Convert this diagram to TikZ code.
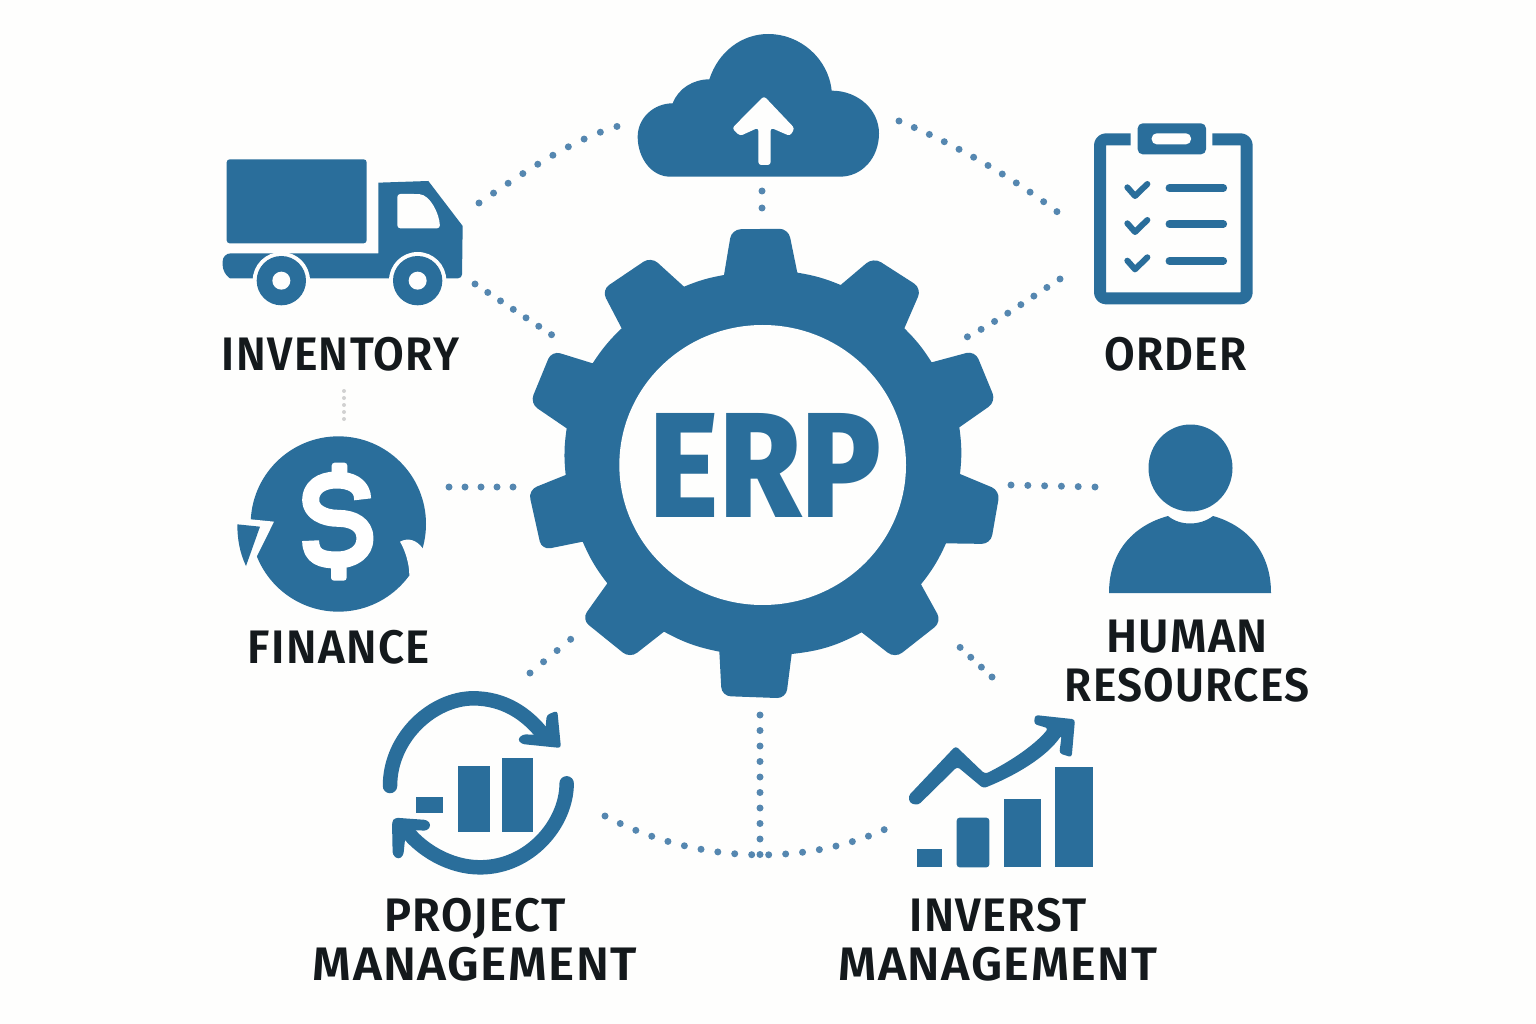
\documentclass[tikz,border=0pt]{standalone}
\usepackage{fontspec}
\usepackage{graphicx}
\setmainfont{Fira Sans}[UprightFont=* SemiBold,LetterSpace=3]
\newfontfamily\erpfont{Fira Sans}[UprightFont=* ExtraBold]
\newcommand{\fitline}[2]{\resizebox{#1pt}{\height}{#2}}
\definecolor{erpblue}{HTML}{2A6E9B}
\definecolor{dotblue}{HTML}{5587B0}
\definecolor{inkdark}{HTML}{14191C}
\definecolor{paper}{HTML}{FEFEFD}
\tikzset{
  zone/.style 2 args={shift={(#1,#2)},x=0.33333pt,y=-0.33333pt},
  solidicon/.style={fill=erpblue,draw=none},
  cutout/.style={fill=paper,draw=none},
  dotline/.style={draw=dotblue,line width=7pt,line cap=round,dash pattern=on 0pt off #1pt},
  dotline/.default=16,
  fadedots/.style={draw=black!18,line width=4pt,line cap=round,dash pattern=on 0pt off 7pt},
  caption/.style={font=\fontsize{47}{49}\selectfont,text=inkdark,align=center,inner sep=0pt},
  iconstroke/.style={draw=erpblue,line cap=round,line join=round}
}
\begin{document}
\begin{tikzpicture}[x=1pt,y=-1pt]
\useasboundingbox (0,0) rectangle (1536,1024);
\fill[paper] (0,0) rectangle (1536,1024);

% connector end points
\coordinate (tlA) at (479,203); \coordinate (tlB) at (622,125);
\coordinate (trA) at (899,121); \coordinate (trB) at (1060,214);
\coordinate (ivA) at (475,284); \coordinate (ivB) at (558,339);
\coordinate (orA) at (1060,279); \coordinate (orB) at (967,337);
\coordinate (clA) at (762,191); \coordinate (clB) at (762,208);
\coordinate (fiA) at (449,487); \coordinate (fiB) at (513,487);
\coordinate (hrA) at (1095,487); \coordinate (hrB) at (1011,485);
\coordinate (pjA) at (530,673); \coordinate (pjB) at (571,639);
\coordinate (inA) at (992,677); \coordinate (inB) at (950,638);
\coordinate (vtA) at (760,715); \coordinate (vtB) at (760,855);
\coordinate (btA) at (605,816); \coordinate (btB) at (892,826);
\coordinate (faA) at (344,391); \coordinate (faB) at (344,426);

\draw[dotline=17.6] (tlA) .. controls (530,168) and (575,138) .. (tlB);
\draw[dotline=16.6] (trA) .. controls (950,142) and (1010,175) .. (trB);
\draw[dotline=15.3] (ivA) -- (ivB);
\draw[dotline=15.6] (orA) .. controls (1030,298) and (1000,320) .. (orB);
\draw[dotline=17] (clA) -- (clB);
\draw[dotline=16] (fiA) -- (fiB);
\draw[dotline=16.8] (hrA) -- (hrB);
\draw[dotline=17.6] (pjA) -- (pjB);
\draw[dotline=14.5] (inA) -- (inB);
\draw[dotline=15.5] (vtA) -- (vtB);
\draw[dotline=17] (btA) .. controls (700,866) and (810,866) .. (btB);
\draw[fadedots] (faA) -- (faB);

% gear
\begin{scope}[zone={520}{220}]
\fill[solidicon] (612,165)
 [rounded corners=9pt] -- (635,28) -- (805,26) [sharp corners] -- (832,158) to[bend left=6.5]
 (962,195) [rounded corners=9pt] -- (1060,112) -- (1205,205) [sharp corners] -- (1153,325) to[bend left=6.5]
 (1235,427) [rounded corners=9pt] -- (1365,392) -- (1428,545) [sharp corners] -- (1318,622) to[bend left=7]
 (1320,762) [rounded corners=9pt] -- (1440,812) -- (1412,972) [sharp corners] -- (1278,970) to[bend left=7]
 (1203,1093) [rounded corners=9pt] -- (1265,1205) -- (1125,1315) [sharp corners] -- (1025,1237) to[bend left=11]
 (815,1302) [rounded corners=9pt] -- (798,1435) -- (605,1428) [sharp corners] -- (598,1295) to[bend left=8.5]
 (432,1235) [rounded corners=9pt] -- (330,1315) -- (185,1198) [sharp corners] -- (262,1090) to[bend left=7]
 (188,965) [rounded corners=9pt] -- (65,990) -- (25,810) [sharp corners] -- (137,765) to[bend left=7]
 (140,625) [rounded corners=9pt] -- (30,550) -- (95,392) [sharp corners] -- (218,430) to[bend left=6.5]
 (305,325) [rounded corners=9pt] -- (245,210) -- (393,110) [sharp corners] -- (492,200) to[bend left=6]
 (612,165) -- cycle;
\fill[cutout] (728,735) ellipse [x radius=430,y radius=420];
\end{scope}
\node[inner sep=0pt,text=erpblue] (erp) at (765.5,465.5) {\resizebox{231pt}{104pt}{\erpfont ERP}};

% cloud
\begin{scope}[zone={620}{20}]
\fill[solidicon] (150,470) .. controls (95,470) and (53,415) .. (53,350) .. controls (53,295) and (100,250) .. (158,250) .. controls (175,205) and (220,178) .. (268,178) .. controls (295,95) and (365,42) .. (445,42) .. controls (540,42) and (625,115) .. (635,212) .. controls (715,212) and (777,270) .. (777,340) .. controls (777,415) and (725,470) .. (660,470) -- cycle;
\fill[cutout,rounded corners=3pt] (432,228) -- (524,325) -- (510,348) -- (452,323) -- (452,435) -- (415,435) -- (415,323) -- (360,348) -- (336,325) -- cycle;
\end{scope}

% truck
\begin{scope}[zone={200}{20}]
\fill[solidicon,rounded corners=3pt] (80,670) -- (80,418) -- (500,418) -- (500,670) -- cycle;
\fill[solidicon] (535,700) -- (535,488) -- (685,483) -- (788,618) [rounded corners=4pt] -- (786,775) [sharp corners] -- (90,775) [rounded corners=8pt] -- (68,760) -- (68,700) [sharp corners] -- cycle;
\fill[cutout,rounded corners=3pt] (592,522) -- (650,522) .. controls (690,525) and (718,580) .. (720,625) -- (592,625) -- cycle;
\foreach \wx/\wy in {244/782,653/782}{
  \fill[cutout] (\wx,\wy) circle [radius=86];
  \fill[solidicon] (\wx,\wy) circle [radius=74];
  \fill[cutout] (\wx,\wy) circle [radius=27];
}
\end{scope}
\node[caption] (inventory) at (340.5,354.5) {\fitline{237}{INVENTORY}};

% clipboard
\begin{scope}[zone={1080}{110}]
\draw[iconstroke,line width=12pt,line cap=butt,rounded corners=6pt] (152,88) -- (60,88) -- (60,565) -- (500,565) -- (500,88) -- (397,88);
\fill[solidicon,rounded corners=5pt] (173,40) rectangle (378,133);
\fill[cutout,rounded corners=5pt] (215,70) rectangle (333,103);
\foreach \cy in {0,108,220}{
  \draw[iconstroke,line width=6pt] (142,232+\cy) -- (165,258+\cy) -- (202,222+\cy);
}
\foreach \ly in {234,342,453}{
  \draw[iconstroke,line width=7.5pt] (268,\ly) -- (430,\ly);
}
\end{scope}
\node[caption] (order) at (1175.5,354.5) {\fitline{143}{ORDER}};

% finance
\begin{scope}[zone={220}{420}]
\fill[solidicon] (355,312) circle [radius=263];
\fill[cutout] (92,298) -- (162,305) -- (110,410) -- (30,430) -- (30,298) -- cycle;
\fill[cutout] (608,385) .. controls (590,360) and (565,352) .. (540,365) .. controls (555,390) and (568,430) .. (568,465) -- (650,465) -- (650,385) -- cycle;
\fill[solidicon] (52,313) -- (120,320) -- (78,438) .. controls (60,400) and (52,360) .. cycle;
\draw[draw=white,line width=17pt,line join=round] (428,238) .. controls (428,195) and (390,180) .. (350,180) .. controls (300,180) and (272,205) .. (272,240) .. controls (272,275) and (310,295) .. (355,295) .. controls (400,295) and (435,315) .. (435,355) .. controls (435,395) and (400,420) .. (350,420) .. controls (305,420) and (272,410) .. (272,362);
\fill[white,rounded corners=3pt] (335,128) rectangle (382,170);
\fill[white,rounded corners=3pt] (333,435) rectangle (380,482);
\end{scope}
\node[caption] (finance) at (339,647.5) {\fitline{182}{FINANCE}};

% human resources
\fill[solidicon] (1190.5,468) ellipse [x radius=42,y radius=43.5];
\fill[solidicon] (1109,593) .. controls (1109,550) and (1135,525) .. (1168,516) .. controls (1180,526) and (1200,526) .. (1213,516) .. controls (1245,525) and (1271,550) .. (1271,593) -- cycle;
\node[caption] (hr) at (1187,661) {\fitline{162}{HUMAN}\\\fitline{245}{RESOURCES}};

% project
\begin{scope}[zone={370}{680}]
\draw[iconstroke,line width=14.5pt] (60,318) .. controls (60,170) and (190,55) .. (310,55) .. controls (400,55) and (470,100) .. (520,165);
\fill[solidicon,rounded corners=3pt] (530,105) -- (562,92) -- (573,204) -- (455,192) -- (443,178) -- (458,163) -- (525,165) -- cycle;
\draw[iconstroke,line width=14.5pt] (590,310) .. controls (590,430) and (480,562) .. (330,562) .. controls (240,562) and (150,510) .. (100,440);
\fill[solidicon,rounded corners=3pt] (66,425) -- (75,413) -- (172,420) -- (183,435) -- (172,452) -- (108,450) -- (100,527) -- (85,538) -- (68,525) -- cycle;
\fill[solidicon] (137,352) rectangle (220,400);
\fill[solidicon] (263,257) rectangle (360,455);
\fill[solidicon] (397,235) rectangle (490,455);
\end{scope}
\node[caption] (project) at (475,939.5) {\fitline{181}{PROJECT}\\\fitline{324}{MANAGEMENT}};

% invest
\begin{scope}[zone={890}{700}]
\fill[solidicon] (82,448) rectangle (155,502);
\fill[solidicon,rounded corners=3pt] (200,502) -- (200,353) -- (298,353) -- (298,502) -- cycle;
\fill[solidicon] (342,296) rectangle (453,502);
\fill[solidicon] (494,201) rectangle (609,502);
\fill[solidicon,rounded corners=3pt] (55,288) -- (197,138) -- (285,222) .. controls (350,190) and (430,140) .. (475,85) -- (432,72) -- (435,45) -- (555,58) -- (545,172) -- (508,160) -- (515,105) .. controls (470,170) and (380,225) .. (280,265) -- (202,200) -- (85,315) -- (60,310) -- cycle;
\end{scope}
\node[caption] (invest) at (998,939.5) {\fitline{177}{INVERST}\\\fitline{319}{MANAGEMENT}};
\end{tikzpicture}
\end{document}
